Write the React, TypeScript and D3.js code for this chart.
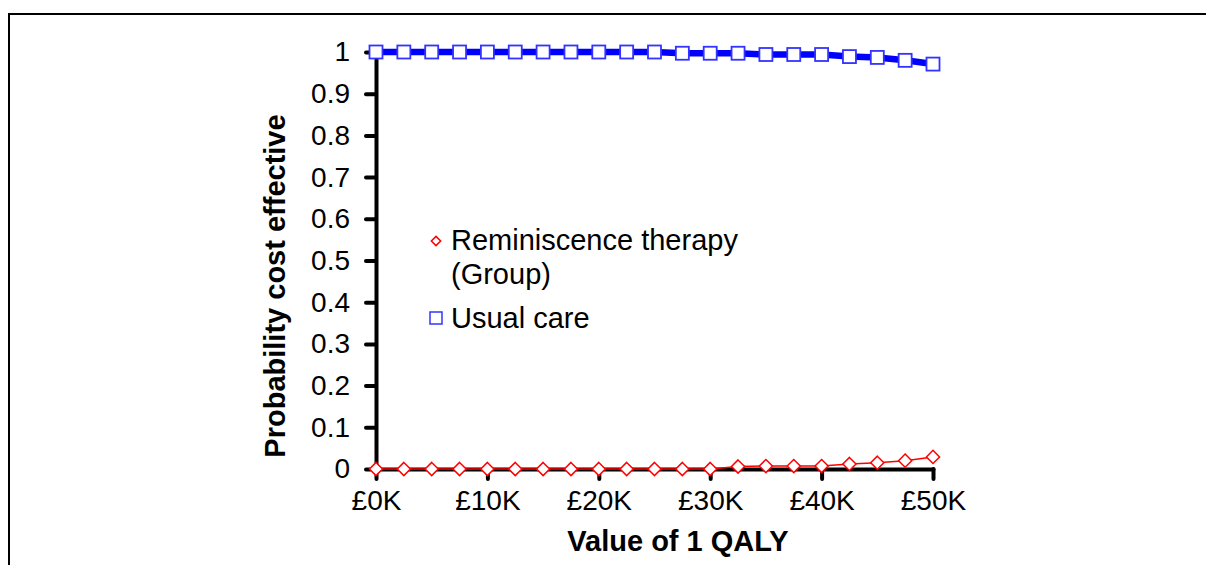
import React, { useEffect, useRef } from "react";
import * as d3 from "d3";

// willingness-to-pay thresholds (£)
const qalyValues = [
  0, 2500, 5000, 7500, 10000, 12500, 15000, 17500, 20000, 22500, 25000,
  27500, 30000, 32500, 35000, 37500, 40000, 42500, 45000, 47500, 50000,
];
const reminiscence = [
  0, 0, 0, 0, 0, 0, 0, 0, 0, 0, 0, 0, 0, 0.006, 0.007, 0.007, 0.007, 0.012,
  0.015, 0.02, 0.029,
];
const usualCare = [
  1, 1, 1, 1, 1, 1, 1, 1, 1, 1, 1, 0.997, 0.997, 0.997, 0.994, 0.994, 0.994,
  0.989, 0.987, 0.98, 0.971,
];
const xTicks = [0, 10000, 20000, 30000, 40000, 50000];
const yTicks = [0, 0.1, 0.2, 0.3, 0.4, 0.5, 0.6, 0.7, 0.8, 0.9, 1];

const W = 1206;
const H = 565;
const FONT = "'Liberation Sans', Arial, sans-serif";
const FS = 28;
const FS_TITLE = 29;

const App = () => {
  const svgRef = useRef<SVGSVGElement>(null);

  useEffect(() => {
    const svg = d3.select(svgRef.current);
    svg.selectAll("*").remove();

    // outer frame (runs off the right and bottom edges)
    svg
      .append("rect")
      .attr("x", 9)
      .attr("y", 14)
      .attr("width", 1300)
      .attr("height", 700)
      .attr("fill", "white")
      .attr("stroke", "black")
      .attr("stroke-width", 2);

    const x = d3.scaleLinear().domain([0, 50000]).range([376, 933]);
    const y = d3.scaleLinear().domain([0, 1]).range([469, 52]);

    const styleAxis = (g) => {
      g.selectAll("path.domain, line")
        .attr("stroke", "black")
        .attr("stroke-width", 4)
        .attr("stroke-linecap", "round");
      g.selectAll("text")
        .attr("fill", "black")
        .attr("font-family", FONT)
        .attr("font-size", FS);
    };

    svg
      .append("g")
      .attr("transform", `translate(0,${y(0)})`)
      .call(
        d3
          .axisBottom(x)
          .tickValues(xTicks)
          .tickSize(10)
          .tickSizeOuter(0)
          .tickPadding(11)
          .tickFormat((d) => `£${+d / 1000}K`)
      )
      .call(styleAxis);

    svg
      .append("g")
      .attr("transform", `translate(${x(0)},0)`)
      .call(
        d3
          .axisLeft(y)
          .tickValues(yTicks)
          .tickSize(10)
          .tickSizeOuter(0)
          .tickPadding(16)
          .tickFormat((d) => d3.format("~g")(+d))
      )
      .call(styleAxis);

    // usual care
    svg
      .append("path")
      .datum(usualCare)
      .attr("fill", "none")
      .attr("stroke", "#0000ff")
      .attr("stroke-width", 6.5)
      .attr(
        "d",
        d3
          .line<number>()
          .x((_, i) => x(qalyValues[i]))
          .y((d) => y(d))
      );

    svg
      .append("g")
      .selectAll("rect")
      .data(usualCare)
      .join("rect")
      .attr("x", (_, i) => x(qalyValues[i]) - 6.5)
      .attr("y", (d) => y(d) - 6.5)
      .attr("width", 13)
      .attr("height", 13)
      .attr("fill", "white")
      .attr("stroke", "#3333ff")
      .attr("stroke-width", 1.8);

    // reminiscence therapy
    svg
      .append("path")
      .datum(reminiscence)
      .attr("fill", "none")
      .attr("stroke", "#ff0000")
      .attr("stroke-width", 1.5)
      .attr(
        "d",
        d3
          .line<number>()
          .x((_, i) => x(qalyValues[i]))
          .y((d) => y(d))
      );

    const diamond = d3.symbol().type(d3.symbolDiamond2).size(110);
    svg
      .append("g")
      .selectAll("path")
      .data(reminiscence)
      .join("path")
      .attr("transform", (d, i) => `translate(${x(qalyValues[i])},${y(d)})`)
      .attr("d", diamond)
      .attr("fill", "white")
      .attr("stroke", "#ff0000")
      .attr("stroke-width", 1.5);

    // legend
    const legend = svg.append("g").attr("font-family", FONT).attr("font-size", FS_TITLE);
    legend
      .append("path")
      .attr("transform", "translate(436,241)")
      .attr("d", d3.symbol().type(d3.symbolDiamond2).size(55)())
      .attr("fill", "white")
      .attr("stroke", "#ff0000")
      .attr("stroke-width", 1.5);
    legend.append("text").attr("x", 451).attr("y", 250).text("Reminiscence therapy");
    legend.append("text").attr("x", 451).attr("y", 284).text("(Group)");
    legend
      .append("rect")
      .attr("x", 430)
      .attr("y", 312)
      .attr("width", 12)
      .attr("height", 12)
      .attr("fill", "white")
      .attr("stroke", "#3333ff")
      .attr("stroke-width", 1.5);
    legend.append("text").attr("x", 451).attr("y", 328).text("Usual care");

    // axis titles
    svg
      .append("text")
      .attr("x", 678)
      .attr("y", 551)
      .attr("text-anchor", "middle")
      .attr("font-family", FONT)
      .attr("font-size", FS_TITLE)
      .attr("font-weight", "bold")
      .text("Value of 1 QALY");

    svg
      .append("text")
      .attr("transform", "translate(285,286) rotate(-90)")
      .attr("text-anchor", "middle")
      .attr("font-family", FONT)
      .attr("font-size", FS_TITLE)
      .attr("font-weight", "bold")
      .text("Probability cost effective");
  }, []);

  return (
    <svg
      ref={svgRef}
      width={W}
      height={H}
      style={{ position: "absolute", left: 0, top: 0, background: "white" }}
    />
  );
};

export default App;
